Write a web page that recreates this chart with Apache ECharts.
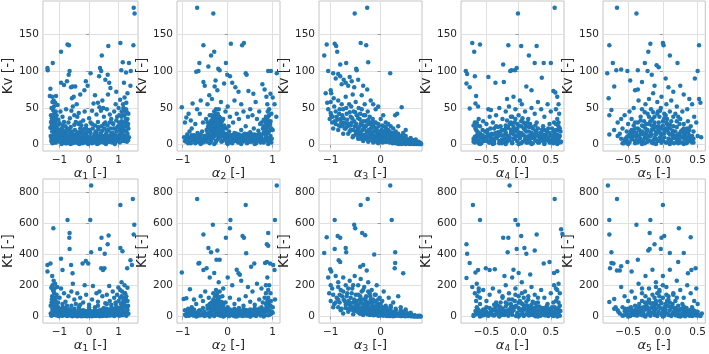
<!DOCTYPE html>
<html><head><meta charset="utf-8">
<script src="https://cdn.jsdelivr.net/npm/echarts@6/dist/echarts.min.js"></script>
<style>html,body{margin:0;padding:0;background:#fff}#c{width:709px;height:354px}</style>
</head><body><div id="c"></div>
<script>
// ---- tick labels / axis names ----
const xNames = ['1','2','3','4','5'];
const yNames = ['Kv [-]','Kt [-]'];
const xTicks = [[-1,0,1],[-1,0,1],[-1,0],[-0.5,0,0.5],[-0.5,0,0.5]];
const xDecimals = [0,0,0,1,1];
const xRanges = [[-1.5625,1.656],[-1.127,1.162],[-1.234,0.826],[-0.895,0.705],[-0.861,0.61]];
const kvTicks = [0,50,100,150];
const ktTicks = [0,200,400,600,800];
const kvRange = [-8.5,195];
const ktRange = [-42,882];

// ---- data: Kv vs alpha_i ----
const kvA1 = [[1.51,186],[1.54,178],[1.50,135],[1.06,138],[0.65,134],[-0.73,136],[-0.68,135],[-0.95,126],[-1.41,104],[-1.40,101],[-1.23,111],[-0.66,100],[-0.69,95],[0.05,97],[0.43,121],[0.37,104],[0.41,100],[0.34,93],[1.14,112],[1.09,101],[1.41,100],[1.35,111],[1.40,80],[0.63,95],[0.68,84],[-0.85,81],[-0.95,84],[-0.75,86],[-1.31,76],[-1.33,66],[-0.11,86],[-0.16,74],[-0.56,79],[-0.61,78],[-0.47,79],[0.55,88],[0.72,77],[1.25,98],[1.18,84],[-0.05,80],[0.2,67],[-0.3,68],[0.92,72],[1.3,70],
[-1.25,65],[-1.2,60],[-1.15,57],[-1.27,50],[-1.22,47],[-1.17,44],[-1.29,40],[-1.2,35],[-1.14,31],[-1.26,28],[-1.1,26],[-1.31,23],[-1.12,66],[-1.07,54],[-1.1,40],[-1.04,34],[-1.0,29],[-0.97,45],[-0.9,38],[-0.85,31],[-0.8,25],[-0.75,22],[-0.7,30],[-0.65,36],[-0.6,46],[-0.55,52],[-0.58,63],[-0.52,65],[-0.5,40],[-0.45,31],[-0.4,38],[-0.36,28],[-0.3,22],[-0.26,26],[-0.2,33],[-0.15,45],[-0.1,22],[0.0,36],[0.05,30],[0.1,46],[0.15,56],[0.2,26],[0.25,41],[0.3,31],[0.35,51],[0.4,46],[0.45,60],[0.5,38],[0.55,30],[0.6,48],[0.64,68],[0.7,41],[0.75,35],[0.8,29],[0.85,45],[0.9,55],[0.95,38],[1.0,50],[1.05,61],[1.1,45],[1.15,55],[1.2,40],[1.25,48],[1.3,35],[1.2,64],[1.26,57],[1.33,42],[1.16,30],[1.22,25],[1.08,28],[0.97,24],[-0.92,22],[-1.05,21],[-0.62,24],[-0.35,43],[0.3,57],[0.48,50],[-0.78,48],[-0.42,55],
[-1.3,12],[-1.28,5],[-1.25,18],[-1.22,8],[-1.2,14],[-1.18,3],[-1.15,20],[-1.12,10],[-1.1,16],[-1.08,6],[-1.05,13],[-1.02,9],[-1.0,4],[-0.97,17],[-0.95,11],[-0.92,6],[-0.9,14],[-0.87,3],[-0.85,9],[-0.82,15],[-0.8,5],[-0.77,11],[-0.75,2],[-0.72,8],[-0.7,13],[-0.67,4],[-0.65,10],[-0.62,16],[-0.6,6],[-0.57,2],[-0.55,11],[-0.52,7],[-0.5,14],[-0.47,3],[-0.45,9],[-0.42,5],[-0.4,12],[-0.37,2],[-0.35,8],[-0.32,15],[-0.3,4],[-0.27,10],[-0.25,6],[-0.22,2],[-0.2,12],[-0.17,7],[-0.15,3],[-0.12,9],[-0.1,14],[-0.07,5],[-0.05,2],[-0.02,8],[0.0,11],[0.03,4],[0.05,16],[0.08,7],[0.1,2],[0.13,10],[0.15,5],[0.18,13],[0.2,3],[0.23,8],[0.25,17],[0.28,5],[0.3,11],[0.33,2],[0.35,7],[0.38,14],[0.4,4],[0.43,9],[0.45,19],[0.48,6],[0.5,12],[0.53,3],[0.55,8],[0.58,15],[0.6,5],[0.63,10],[0.65,20],[0.68,4],[0.7,12],[0.73,7],[0.75,16],[0.78,3],[0.8,9],[0.83,22],[0.85,6],[0.88,13],[0.9,4],[0.93,18],[0.95,10],[0.98,25],[1.0,7],[1.03,14],[1.05,20],[1.08,9],[1.1,32],[1.12,17],[1.15,5],[1.17,24],[1.2,12],[1.22,19],[1.25,8],[1.27,30],[1.3,15],[1.33,22],[1.35,10],
[-1.27,25],[-1.24,32],[-1.19,27],[-1.16,38],[-1.13,22],[-0.98,10],[-0.88,19],[-0.78,18],[-0.68,21],[-0.58,18],[-0.48,20],[-0.38,17],[-0.28,18],[-0.18,21],[-0.08,17],[0.02,19],[0.12,22],[0.22,18],[0.32,21],[0.42,25],[0.52,22],[0.62,26],[0.72,22],[0.82,28],[0.92,33],[1.02,30],[1.13,40],[1.28,44],[-0.93,1],[-0.63,1],[-0.33,1],[-0.03,1],[0.27,1],[0.57,1],[0.87,1]];
const kvA1b = [[-1.28,9],[-1.2,6],[-1.12,3],[-1.04,7],[-0.96,4],[-0.88,8],[-0.8,2],[-0.72,5],[-0.64,7],[-0.56,4],[-0.48,8],[-0.4,6],[-0.32,3],[-0.24,7],[-0.16,5],[-0.08,9],[0.0,6],[0.08,3],[0.16,8],[0.24,5],[0.32,9],[0.4,7],[0.48,3],[0.56,6],[0.64,4],[0.72,9],[0.8,6],[0.88,8],[0.96,5],[1.04,3],[1.12,8],[1.2,5],[1.28,4],
[-1.24,2],[-1.16,9],[-1.08,12],[-1.0,14],[-0.92,10],[-0.84,12],[-0.76,7],[-0.68,10],[-0.6,11],[-0.52,3],[-0.44,11],[-0.36,12],[-0.28,9],[-0.2,4],[-0.12,11],[-0.04,4],[0.04,10],[0.12,6],[0.2,9],[0.28,12],[0.36,4],[0.44,12],[0.52,10],[0.6,12],[0.68,8],[0.76,11],[0.84,13],[0.92,10],[1.0,12],[1.08,15],[1.16,13],[1.24,10],[1.32,6],
[-1.23,40],[-1.19,52],[-1.26,36],[-1.21,22],[-1.17,30],[-1.13,45],[-1.24,58],[-1.29,31],[-1.16,15],[-1.05,27],[-1.11,35],[1.1,38],[1.18,46],[1.24,35],[1.29,25],[1.14,20],[1.21,30],[1.32,28],[1.06,24],[1.26,18],[1.02,40],[1.16,50],
[-0.9,26],[-0.7,19],[-0.5,27],[-0.3,30],[-0.1,26],[0.1,28],[0.3,24],[0.5,28],[0.7,30],[0.9,22],[-0.6,14],[-0.2,16],[0.2,15],[0.6,18],[-0.8,14],[0.8,16],[-0.4,16],[0.4,16],[0.0,20],[-1.0,19]];

const kvA2 = [[-0.68,186],[-0.32,178],[-0.54,135],[0.07,137],[0.36,138],[0.32,135],[-0.30,126],[-0.37,121],[-0.63,111],[-0.43,106],[-0.21,103],[-0.18,101],[-0.04,111],[-0.65,100],[-0.70,99],[-0.01,95],[0.05,93],[0.40,97],[0.42,95],[0.90,100],[0.96,100],[1.09,97],[-0.54,85],[-0.51,80],[-0.41,67],[-0.27,87],[-0.29,79],[-0.23,74],[-0.08,83],[0.10,84],[0.17,78],[0.24,72],[0.46,73],[0.57,69],[0.77,82],[0.82,75],[0.86,65],[1.0,64],[0.95,69],[-1.02,51],[-0.87,42],[-0.92,37],[-0.95,30],[-0.78,56],[-0.68,48],
[-0.6,60],[-0.45,55],[-0.35,62],[-0.15,58],[0.0,52],[0.15,60],[0.3,55],[0.5,48],[0.62,58],[0.7,45],[0.88,55],[0.92,48],[0.97,42],[0.85,38],[0.9,32],[0.94,28],[0.8,25],[0.75,30],[0.65,35],[0.55,40],[0.45,38],[0.35,45],[0.25,35],[0.2,42],[0.12,30],[0.05,38],[-0.05,45],[-0.1,35],[-0.2,48],[-0.25,42],[-0.3,38],[-0.28,30],[-0.22,33],[-0.35,28],[-0.4,40],[-0.48,35],[-0.55,30],[-0.62,42],[-0.72,28],[-0.8,22],[-0.85,18],[-0.9,14],[-0.82,33],[-0.97,10],[1.08,38],[1.04,55],[0.58,22],[0.4,25],[-0.15,27],[-0.32,24],[-0.26,22],[-0.18,20],[-0.38,19],[-0.12,23],
[-0.95,5],[-0.9,8],[-0.85,3],[-0.82,10],[-0.78,6],[-0.75,13],[-0.72,2],[-0.7,9],[-0.67,16],[-0.65,4],[-0.62,11],[-0.6,7],[-0.57,18],[-0.55,3],[-0.52,12],[-0.5,6],[-0.47,20],[-0.45,9],[-0.42,14],[-0.4,2],[-0.38,25],[-0.36,8],[-0.34,16],[-0.32,30],[-0.3,12],[-0.28,20],[-0.26,5],[-0.24,26],[-0.22,14],[-0.2,9],[-0.18,32],[-0.16,17],[-0.14,4],[-0.12,12],[-0.1,22],[-0.07,7],[-0.05,15],[-0.02,3],[0.0,10],[0.03,18],[0.05,6],[0.08,13],[0.1,2],[0.13,9],[0.15,16],[0.18,5],[0.2,11],[0.23,3],[0.25,14],[0.28,7],[0.3,20],[0.33,4],[0.35,10],[0.38,15],[0.4,6],[0.43,2],[0.45,12],[0.48,8],[0.5,17],[0.53,4],[0.55,11],[0.58,6],[0.6,14],[0.63,2],[0.65,9],[0.68,19],[0.7,5],[0.73,13],[0.75,8],[0.78,22],[0.8,3],[0.82,15],[0.85,10],[0.87,27],[0.9,6],[0.92,18],[0.95,12],[0.97,3],[1.0,20],[-0.88,2],[-0.6,1],[-0.3,1],[0.0,1],[0.3,1],[0.6,1],[0.9,1],[-0.44,24],[-0.34,35],[-0.28,40],[-0.2,28],[-0.24,36],[-0.3,45],[0.72,28],[0.86,35],[0.92,40]];
const kvA2b = [[-0.92,4],[-0.87,7],[-0.82,2],[-0.77,9],[-0.72,5],[-0.67,8],[-0.62,3],[-0.57,7],[-0.52,9],[-0.47,4],[-0.42,8],[-0.37,5],[-0.32,9],[-0.27,3],[-0.22,7],[-0.17,10],[-0.12,5],[-0.07,9],[-0.02,6],[0.03,3],[0.08,8],[0.13,5],[0.18,9],[0.23,7],[0.28,3],[0.33,8],[0.38,5],[0.43,9],[0.48,4],[0.53,7],[0.58,9],[0.63,5],[0.68,8],[0.73,3],[0.78,7],[0.83,5],[0.88,9],[0.93,6],[0.98,8],
[-0.9,11],[-0.8,13],[-0.7,12],[-0.6,14],[-0.5,11],[-0.45,16],[-0.4,12],[-0.35,13],[-0.3,16],[-0.25,13],[-0.2,18],[-0.15,12],[-0.1,15],[-0.05,11],[0.0,14],[0.05,12],[0.1,13],[0.15,11],[0.2,15],[0.25,10],[0.3,12],[0.35,14],[0.4,11],[0.45,15],[0.5,12],[0.55,14],[0.6,10],[0.65,13],[0.7,15],[0.75,12],[0.8,17],[0.85,14],[0.9,16],[0.95,20],
[-0.42,28],[-0.38,32],[-0.36,22],[-0.33,26],[-0.31,20],[-0.29,34],[-0.27,28],[-0.25,18],[-0.23,30],[-0.21,24],[-0.19,38],[-0.17,26],[-0.15,20],[-0.13,32],[-0.11,18],[-0.26,48],[-0.22,42],[-0.35,40],[-0.16,36],[-0.4,22],[-0.45,30],[-0.08,26],[-0.03,22],[0.02,25],
[0.82,22],[0.84,30],[0.88,24],[0.9,38],[0.93,26],[0.95,32],[0.97,22],[0.89,45],[0.8,34],[0.86,20]];

const kvA3 = [[-0.27,186],[-0.52,178],[-0.40,138],[-0.29,135],[-1.08,136],[-0.92,137],[-0.89,134],[-0.87,126],[-1.13,121],[-0.81,109],[-0.69,111],[-0.49,103],[-0.48,101],[-0.25,112],[-1.05,100],[-0.95,97],[-0.85,96],[-0.81,93],[0.19,97],[-0.74,88],[-0.70,84],[-0.65,80],[-0.58,86],[-0.53,78],[-1.0,74],[-0.99,70],[-0.94,63],[-0.27,75],[-0.38,67],[-1.0,58],[-1.07,57],[-1.0,43],[-0.99,40],[0.42,51],[0.29,40],[0.33,42],
[-0.9,90],[-0.78,82],[-0.62,92],[-0.45,88],[-0.35,80],[-0.2,60],[-0.15,55],[-0.1,48],[-0.05,52],[0.0,35],[0.05,40],[0.1,30],[0.15,28],[0.2,25],[0.25,22],[0.3,18],[0.35,15],[0.4,12],[0.45,10],[0.5,8],[0.55,7],[0.6,6],[0.65,5],[0.7,4],[0.75,3],[0.8,2],
[-1.1,70],[-1.05,48],[-1.02,35],[-0.97,30],[-0.93,52],[-0.9,45],[-0.88,38],[-0.85,60],[-0.83,42],[-0.8,35],[-0.78,55],[-0.75,48],[-0.73,30],[-0.7,65],[-0.68,42],[-0.66,25],[-0.63,55],[-0.6,38],[-0.58,30],[-0.56,68],[-0.54,45],[-0.52,25],[-0.5,58],[-0.48,40],[-0.46,22],[-0.44,50],[-0.42,35],[-0.4,28],[-0.38,48],[-0.36,20],[-0.34,40],[-0.32,55],[-0.3,32],[-0.28,18],[-0.26,45],[-0.24,28],[-0.22,38],[-0.2,22],[-0.18,15],[-0.16,35],[-0.14,25],[-0.12,12],[-0.1,30],[-0.08,20],[-0.06,10],[-0.04,25],[-0.02,15],[0.0,8],[0.02,20],[0.04,12],[0.06,5],[0.08,18],[0.1,10],[0.12,4],[0.14,15],[0.16,7],[0.18,3],[0.2,12],[0.22,6],[0.24,2],[0.26,10],[0.28,5],[0.3,2],[0.32,8],[0.34,4],[0.36,1],[0.38,7],[0.4,3],[0.42,1],[0.44,6],[0.46,2],[0.48,4],[0.5,1],[0.52,5],[0.54,2],[0.56,3],[0.58,1],[0.6,4],[0.62,2],[0.64,1],[0.66,3],[0.68,1],[0.7,2],[0.72,1],[0.74,2],[0.76,1],[0.78,1],[0.8,1],
[-0.65,15],[-0.6,20],[-0.55,12],[-0.5,18],[-0.45,8],[-0.42,14],[-0.38,10],[-0.35,5],[-0.32,12],[-0.28,8],[-0.25,4],[-0.22,10],[-0.18,6],[-0.15,3],[-0.12,7],[-0.08,4],[-0.05,2],[-0.2,30],[-0.3,25],[-0.4,18],[-0.7,22],[-0.8,25],[-0.85,20],[-0.95,22],[-0.75,15],[0.05,25],[0.1,18],[0.15,12],[0.2,8],[0.25,15],[0.3,10],[0.35,6],[0.4,5],[0.45,16],[0.5,12],[0.55,3],[0.6,9],[0.65,6],[0.7,7],[0.15,20],[0.35,25],[0.5,20]];
const kvA3b = [[-0.9,28],[-0.87,34],[-0.84,26],[-0.82,48],[-0.79,30],[-0.77,40],[-0.74,36],[-0.72,22],[-0.69,50],[-0.67,34],[-0.64,28],[-0.62,44],[-0.6,26],[-0.59,52],[-0.57,36],[-0.55,20],[-0.53,32],[-0.51,44],[-0.49,28],[-0.47,16],[-0.45,36],[-0.43,24],[-0.41,42],[-0.39,30],[-0.37,14],[-0.35,32],[-0.33,22],[-0.31,40],[-0.29,26],[-0.27,10],[-0.25,34],[-0.23,18],[-0.21,28],[-0.19,12],[-0.17,24],[-0.15,18],[-0.13,30],[-0.11,8],[-0.09,22],[-0.07,14],[-0.05,28],[-0.03,6],[-0.01,18],[0.01,12],[0.03,26],[0.05,8],[0.07,16],[0.09,4],[0.11,22],[0.13,9],[0.15,6],[0.17,14],[0.19,5],[0.21,9],[0.23,16],[0.25,6],[0.27,12],[0.29,3],[0.31,14],[0.33,6],[0.35,9],[0.37,3],[0.39,10],[0.41,5],[0.43,2],[0.45,7],[0.47,3],[0.49,5],[0.51,2],[0.53,6],[0.55,4],[0.57,2],[0.59,5],[0.61,3],[0.63,2],[0.65,4],[0.67,2],[0.69,3],[0.71,2],[0.73,3],[0.75,2],[0.77,3],[0.79,2],[0.81,1],
[-0.46,12],[-0.4,8],[-0.34,9],[-0.3,14],[-0.26,6],[-0.22,15],[-0.16,9],[-0.12,18],[-0.06,16],[-0.02,4],[0.04,3],[0.08,7],[0.12,14],[0.16,10],[0.2,4],[0.24,8],[0.28,9],[0.32,2],[0.36,5],[0.4,8],[0.44,4],[0.48,6],[0.52,3],[0.56,5],[0.6,2],[0.64,3],[0.68,4],[0.72,3],[0.76,4],[-0.56,10],[-0.5,14],[-0.44,18],[-0.36,26],[-0.24,20],[-0.18,28],[-0.1,20],[0.0,18],[0.06,14],[0.1,24],[0.18,18],[0.26,14],[0.34,10],[0.42,9],[0.5,7],[-0.62,18],[-0.68,28],[-0.76,26],[-0.92,32],[-0.96,38]];

const kvA4 = [[0.56,186],[-0.01,178],[-0.72,138],[-0.69,126],[-0.60,136],[-0.16,135],[0.04,134],[0.28,134],[0.16,121],[-0.24,109],[0.25,111],[0.39,111],[0.50,111],[-0.82,100],[-0.80,96],[-0.81,83],[-0.76,78],[-0.68,93],[-0.47,92],[-0.13,100],[-0.11,101],[-0.03,104],[-0.06,101],[0.36,91],[-0.23,85],[-0.36,84],[0.2,74],[0.12,79],[0.54,73],[0.57,71],[-0.66,66],[-0.67,56],[-0.63,52],[-0.76,49],[-0.47,48],[-0.43,47],
[0.6,65],[0.62,55],[0.58,48],[0.63,42],[0.6,35],[0.55,30],[0.62,25],[0.58,20],[0.5,45],[0.45,55],[0.4,38],[0.35,48],[0.3,58],[0.25,42],[0.2,50],[0.15,35],[0.1,45],[0.05,55],[0.0,40],[-0.05,48],[-0.1,38],[-0.15,52],[-0.2,45],[-0.25,35],[-0.3,50],[-0.35,40],[-0.4,30],[-0.45,38],[-0.5,28],[-0.55,32],[-0.6,25],[-0.65,30],[-0.67,22],[-0.64,18],[-0.7,26],[-0.62,35],[-0.08,65],[0.02,60],[-0.18,62],[0.08,30],[-0.02,28],[0.12,25],[-0.12,30],[0.18,28],[-0.28,25],[0.28,30],[0.38,25],[0.48,28],[-0.38,22],[-0.48,20],[0.52,22],[0.44,18],
[-0.7,8],[-0.68,3],[-0.65,12],[-0.62,5],[-0.6,15],[-0.58,2],[-0.55,9],[-0.52,18],[-0.5,5],[-0.48,12],[-0.45,3],[-0.42,15],[-0.4,8],[-0.38,2],[-0.35,11],[-0.32,17],[-0.3,5],[-0.28,13],[-0.26,2],[-0.24,20],[-0.22,8],[-0.2,14],[-0.18,4],[-0.16,23],[-0.14,10],[-0.12,16],[-0.1,2],[-0.08,8],[-0.06,21],[-0.04,12],[-0.02,5],[0.0,17],[0.02,9],[0.04,2],[0.06,14],[0.08,22],[0.1,6],[0.12,11],[0.14,3],[0.16,18],[0.18,8],[0.2,13],[0.22,2],[0.24,10],[0.26,19],[0.28,5],[0.3,12],[0.32,3],[0.34,16],[0.36,7],[0.38,11],[0.4,2],[0.42,14],[0.44,6],[0.46,9],[0.48,3],[0.5,13],[0.52,7],[0.54,2],[0.56,10],[0.58,5],[0.6,14],[0.62,8],[0.64,3],[0.65,18],[-0.6,1],[-0.4,1],[-0.2,1],[0.0,1],[0.2,1],[0.4,1],[0.6,1],[-0.1,28],[0.04,32],[-0.2,26],[-0.05,35],[0.1,20]];
const kvA4b = [[-0.7,4],[-0.66,7],[-0.62,2],[-0.58,8],[-0.54,5],[-0.5,9],[-0.46,3],[-0.42,7],[-0.38,5],[-0.34,9],[-0.3,2],[-0.26,7],[-0.22,4],[-0.18,9],[-0.14,6],[-0.1,3],[-0.06,8],[-0.02,5],[0.02,10],[0.06,4],[0.1,8],[0.14,6],[0.18,3],[0.22,9],[0.26,6],[0.3,3],[0.34,8],[0.38,5],[0.42,9],[0.46,6],[0.5,3],[0.54,8],[0.58,5],[0.62,9],[0.66,4],
[-0.68,11],[-0.64,14],[-0.6,10],[-0.56,13],[-0.52,11],[-0.48,15],[-0.44,12],[-0.4,14],[-0.36,16],[-0.32,12],[-0.28,18],[-0.24,13],[-0.2,17],[-0.16,12],[-0.12,20],[-0.08,14],[-0.04,18],[0.0,12],[0.04,16],[0.08,13],[0.12,18],[0.16,12],[0.2,16],[0.24,14],[0.28,17],[0.32,11],[0.36,15],[0.4,13],[0.44,11],[0.48,16],[0.52,12],[0.56,15],[0.6,11],[0.64,12],
[-0.2,22],[-0.14,28],[-0.08,24],[-0.02,22],[0.04,25],[0.1,28],[0.16,24],[0.22,22],[-0.26,20],[0.3,22],[-0.66,20],[-0.64,26],[-0.68,30],[0.6,20],[0.62,30],[0.58,28],[-0.35,25],[0.4,20],[0.0,26],[-0.1,18],
[-0.56,20],[-0.5,18],[-0.44,22],[-0.32,24],[-0.18,33],[-0.12,38],[-0.06,30],[0.06,36],[0.14,30],[0.2,24],[0.26,26],[0.36,20],[0.46,22],[0.54,18],[-0.62,16],[0.64,22],[-0.44,7],[-0.24,6],[0.12,3],[0.32,6],[0.52,5]];

const kvA5 = [[-0.66,186],[-0.38,178],[-0.77,135],[-0.18,137],[-0.21,126],[0.0,138],[0.01,135],[0.52,135],[0.10,121],[-0.72,111],[-0.26,111],[0.21,111],[-0.09,108],[-0.80,97],[-0.67,101],[-0.60,102],[-0.51,100],[-0.36,101],[-0.22,100],[-0.16,95],[-0.06,105],[0.04,90],[0.50,100],[0.46,90],[-0.70,79],[-0.78,63],[-0.74,47],[-0.77,40],[-0.47,87],[-0.40,74],[-0.36,75],[0.52,62],[0.54,57],[-0.77,14],
[-0.3,85],[-0.12,80],[0.08,78],[0.15,72],[0.25,80],[0.3,68],[0.38,62],[0.42,55],[0.35,48],[0.28,45],[0.2,52],[0.12,60],[0.05,55],[-0.02,65],[-0.08,58],[-0.14,70],[-0.2,62],[-0.25,55],[-0.3,48],[-0.35,60],[-0.42,50],[-0.48,45],[-0.55,40],[-0.6,35],[-0.65,30],[-0.7,20],[-0.62,15],[-0.58,22],[-0.5,28],[-0.45,35],[-0.4,30],[-0.32,38],[-0.27,32],[-0.22,42],[-0.17,48],[-0.12,38],[-0.07,45],[-0.03,50],[0.02,42],[0.06,35],[0.1,45],[0.15,38],[0.2,32],[0.25,35],[0.3,28],[0.36,32],[0.4,25],[0.45,38],[0.48,30],[0.44,18],[0.5,12],[0.55,10],
[-0.55,5],[-0.52,10],[-0.5,3],[-0.48,14],[-0.45,7],[-0.42,18],[-0.4,2],[-0.38,11],[-0.36,22],[-0.34,6],[-0.32,15],[-0.3,3],[-0.28,25],[-0.26,9],[-0.24,17],[-0.22,4],[-0.2,28],[-0.18,12],[-0.16,20],[-0.14,2],[-0.12,30],[-0.1,8],[-0.08,18],[-0.06,25],[-0.04,5],[-0.02,14],[0.0,32],[0.02,10],[0.04,22],[0.06,3],[0.08,16],[0.1,27],[0.12,7],[0.14,19],[0.16,2],[0.18,12],[0.2,24],[0.22,6],[0.24,15],[0.26,3],[0.28,20],[0.3,9],[0.32,13],[0.34,2],[0.36,17],[0.38,7],[0.4,11],[0.42,3],[0.44,8],[-0.6,8],[-0.58,2],[-0.65,12],[-0.5,1],[-0.3,1],[-0.1,1],[0.1,1],[0.3,1],[-0.15,35],[-0.05,38],[0.05,30],[-0.25,22],[0.15,25],[-0.45,20],[0.35,22]];
const kvA5b = [[-0.56,2],[-0.52,6],[-0.48,3],[-0.44,9],[-0.4,5],[-0.36,3],[-0.32,8],[-0.28,5],[-0.24,9],[-0.2,6],[-0.16,3],[-0.12,9],[-0.08,5],[-0.04,10],[0.0,6],[0.04,3],[0.08,8],[0.12,4],[0.16,9],[0.2,5],[0.24,8],[0.28,3],[0.32,7],[0.36,4],[0.4,6],[0.44,3],
[-0.5,12],[-0.46,10],[-0.42,12],[-0.38,16],[-0.34,12],[-0.3,18],[-0.26,14],[-0.22,20],[-0.18,16],[-0.14,22],[-0.1,14],[-0.06,20],[-0.02,22],[0.02,16],[0.06,20],[0.1,14],[0.14,12],[0.18,18],[0.22,14],[0.26,11],[0.3,15],[0.34,10],[0.38,13],[0.42,9],[-0.54,8],
[-0.24,28],[-0.18,32],[-0.12,26],[-0.06,30],[0.0,26],[0.06,28],[-0.3,26],[0.12,32],[-0.08,42],[0.02,36],[-0.2,38],[0.1,22],[0.24,28],[-0.36,30],[-0.42,26],[0.3,22],[-0.1,24],[-0.16,26],
[-0.46,18],[-0.4,22],[-0.34,20],[-0.28,14],[-0.22,12],[-0.16,14],[-0.1,18],[-0.04,16],[0.02,20],[0.08,24],[0.14,16],[0.2,10],[0.26,18],[0.32,18],[0.38,20],[-0.44,14],[-0.14,44],[-0.04,46],[0.04,40],[-0.26,44],[0.18,42],[-0.32,33],[0.22,38],[-0.52,18],[-0.38,6],[-0.26,2],[-0.14,6],[-0.02,3],[0.1,5],[0.22,2],[0.34,5],[0.42,12]];

// ---- data: Kt vs alpha_i ----
const ktA1 = [[0.07,841],[1.48,753],[1.06,716],[1.53,588],[1.51,526],[-0.73,619],[0.04,619],[-1.21,567],[-0.66,536],[-0.67,505],[0.42,505],[0.66,520],[0.63,464],[1.06,439],[1.13,419],[0.37,433],[0.53,402],[0.07,412],[-0.66,433],[-0.95,371],[-1.31,340],[-1.41,330],[-1.41,289],[1.40,361],[1.45,330],[1.29,309],[-0.11,357],[-0.22,340],[-0.03,340],[-0.61,330],[-0.56,278],[-0.90,299],[0.41,309],[0.52,309],[0.47,299],[0.13,196],[0.68,196],[0.99,186],
[-1.25,260],[-1.2,230],[-1.15,210],[-1.28,185],[-1.22,170],[-1.18,150],[-1.25,130],[-1.2,115],[-1.14,100],[-1.27,90],[-1.1,80],[-1.3,70],[-1.05,60],[-1.15,55],[-1.0,120],[-0.95,180],[-0.85,150],[-0.8,95],[-0.75,70],[-0.7,130],[-0.6,160],[-0.55,210],[-0.5,110],[-0.45,80],[-0.4,150],[-0.35,60],[-0.3,120],[-0.2,90],[-0.1,140],[0.0,75],[0.1,110],[0.2,60],[0.3,95],[0.35,160],[0.45,130],[0.55,85],[0.6,140],[0.7,100],[0.75,75],[0.8,160],[0.85,120],[0.9,80],[0.95,140],[1.0,100],[1.05,170],[1.1,130],[1.15,90],[1.2,150],[1.25,110],[1.3,185],[1.22,70],[1.28,60],[1.1,220],[-1.1,140],[-1.08,190],[-0.9,60],[-0.65,45],[0.25,150],[-0.15,200],
[-1.3,20],[-1.27,5],[-1.24,35],[-1.21,12],[-1.18,45],[-1.15,25],[-1.12,8],[-1.1,40],[-1.07,18],[-1.04,3],[-1.0,30],[-0.97,10],[-0.94,22],[-0.9,5],[-0.87,15],[-0.84,35],[-0.8,8],[-0.77,20],[-0.74,3],[-0.7,12],[-0.67,28],[-0.64,6],[-0.6,16],[-0.57,2],[-0.54,10],[-0.5,24],[-0.47,5],[-0.44,14],[-0.4,2],[-0.37,9],[-0.34,20],[-0.3,4],[-0.27,12],[-0.24,2],[-0.2,8],[-0.17,18],[-0.14,3],[-0.1,10],[-0.07,2],[-0.04,7],[0.0,15],[0.03,3],[0.06,9],[0.1,2],[0.13,12],[0.16,5],[0.2,20],[0.23,3],[0.26,10],[0.3,6],[0.33,16],[0.36,2],[0.4,11],[0.43,25],[0.46,4],[0.5,14],[0.53,7],[0.56,30],[0.6,3],[0.63,12],[0.66,22],[0.7,6],[0.73,15],[0.76,40],[0.8,9],[0.83,25],[0.86,4],[0.9,18],[0.93,45],[0.96,10],[1.0,30],[1.03,5],[1.06,55],[1.1,20],[1.13,8],[1.16,38],[1.2,15],[1.23,28],[1.26,5],[1.3,42],[1.33,18],[-1.2,60],[-1.25,75],[-0.5,50],[0.0,45],[0.5,55],[1.2,90],[1.15,65],[-0.3,40],[0.3,35],[0.8,50],[-0.8,55]];
const ktA1b = [[-1.28,8],[-1.2,25],[-1.12,15],[-1.04,32],[-0.96,6],[-0.88,18],[-0.8,30],[-0.72,8],[-0.64,20],[-0.56,12],[-0.48,30],[-0.4,8],[-0.32,18],[-0.24,10],[-0.16,26],[-0.08,6],[0.0,22],[0.08,12],[0.16,28],[0.24,8],[0.32,24],[0.4,5],[0.48,30],[0.56,12],[0.64,35],[0.72,8],[0.8,28],[0.88,12],[0.96,32],[1.04,18],[1.12,40],[1.2,28],[1.28,20],
[-1.24,50],[-1.16,62],[-1.08,40],[-1.0,48],[-0.92,40],[-0.84,18],[-0.76,42],[-0.68,45],[-0.6,35],[-0.52,42],[-0.44,32],[-0.36,38],[-0.28,30],[-0.2,40],[-0.12,35],[-0.04,30],[0.04,36],[0.12,32],[0.2,42],[0.28,35],[0.36,40],[0.44,45],[0.52,38],[0.6,50],[0.68,44],[0.76,58],[0.84,46],[0.92,62],[1.0,55],[1.08,80],[1.16,100],[1.24,60],[1.32,70],
[-1.22,100],[-1.18,120],[-1.26,110],[-1.14,80],[-1.2,160],[-1.24,200],[-1.17,180],[-1.12,120],[1.18,120],[1.22,150],[1.26,130],[1.12,160],[1.2,200],[1.3,100],[-0.9,80],[-0.6,70],[-0.3,75],[0.0,60],[0.3,70],[0.6,80],[0.9,90],[-1.05,90],[1.05,120]];

const ktA2 = [[1.09,841],[-0.68,753],[0.40,716],[1.05,619],[0.06,619],[0.05,567],[-0.33,588],[-0.54,526],[0.90,536],[0.33,516],[0.36,505],[-0.04,505],[0.87,464],[0.90,454],[-0.43,439],[-0.37,412],[-0.23,423],[0.41,406],[0.83,344],[0.87,350],[0.94,340],[1.01,330],[1.04,299],[-1.02,282],[-0.65,340],[-0.63,344],[-0.54,299],[-0.47,309],[-0.25,365],[-0.18,365],[0.24,278],[0.27,268],[0.52,320],[0.59,340],[-0.98,113],[-0.84,175],[-0.92,118],
[-0.4,250],[-0.3,280],[-0.2,220],[-0.1,180],[0.0,250],[0.1,200],[0.2,300],[0.3,230],[0.45,190],[0.55,160],[0.65,210],[0.75,180],[0.85,200],[0.9,170],[0.95,150],[0.82,120],[0.88,100],[0.92,80],[0.78,90],[0.7,110],[0.6,75],[0.5,95],[0.4,130],[0.35,70],[0.25,110],[0.15,80],[0.05,120],[-0.05,90],[-0.12,130],[-0.18,160],[-0.22,120],[-0.27,100],[-0.32,150],[-0.36,90],[-0.42,120],[-0.5,160],[-0.55,100],[-0.6,130],[-0.7,80],[-0.75,110],[-0.8,60],[-0.88,50],[-0.95,40],[1.0,60],[1.05,110],[-0.15,95],[-0.25,75],[-0.2,60],[-0.3,55],[-0.1,70],
[-0.95,12],[-0.9,25],[-0.86,5],[-0.82,18],[-0.78,35],[-0.75,8],[-0.72,22],[-0.68,3],[-0.65,15],[-0.62,40],[-0.58,10],[-0.55,25],[-0.52,4],[-0.48,18],[-0.45,50],[-0.42,8],[-0.38,30],[-0.35,14],[-0.32,70],[-0.3,3],[-0.28,45],[-0.26,22],[-0.24,85],[-0.22,10],[-0.2,35],[-0.18,55],[-0.16,5],[-0.14,28],[-0.12,15],[-0.1,42],[-0.08,4],[-0.05,20],[-0.02,10],[0.0,30],[0.03,3],[0.06,16],[0.1,8],[0.13,25],[0.16,2],[0.2,12],[0.23,35],[0.26,6],[0.3,18],[0.33,3],[0.36,10],[0.4,28],[0.43,5],[0.46,14],[0.5,2],[0.53,20],[0.56,8],[0.6,35],[0.63,4],[0.66,15],[0.7,25],[0.73,6],[0.76,45],[0.8,12],[0.83,30],[0.86,60],[0.9,8],[0.93,40],[0.96,18],[1.0,25],[-0.7,1],[-0.4,1],[-0.1,1],[0.2,1],[0.5,1],[0.8,1],[-0.34,40],[-0.2,100],[-0.15,45],[-0.38,60]];
const ktA2b = [[-0.92,4],[-0.87,15],[-0.82,28],[-0.77,6],[-0.72,12],[-0.67,25],[-0.62,6],[-0.57,18],[-0.52,30],[-0.47,8],[-0.42,22],[-0.37,45],[-0.32,12],[-0.27,30],[-0.22,55],[-0.17,20],[-0.12,38],[-0.07,10],[-0.02,25],[0.03,8],[0.08,20],[0.13,6],[0.18,15],[0.23,25],[0.28,10],[0.33,22],[0.38,6],[0.43,18],[0.48,30],[0.53,10],[0.58,20],[0.63,8],[0.68,28],[0.73,14],[0.78,24],[0.83,8],[0.88,35],[0.93,12],[0.98,30],
[-0.85,40],[-0.75,45],[-0.65,35],[-0.55,55],[-0.45,70],[-0.4,80],[-0.35,55],[-0.3,90],[-0.25,60],[-0.22,110],[-0.2,75],[-0.15,70],[-0.12,90],[-0.1,55],[-0.05,48],[0.0,60],[0.05,45],[0.1,38],[0.15,50],[0.2,40],[0.25,55],[0.3,35],[0.35,48],[0.4,42],[0.45,38],[0.5,45],[0.55,40],[0.6,55],[0.65,42],[0.7,50],[0.75,60],[0.8,45],[0.85,80],[0.9,55],[0.95,70],
[-0.28,130],[-0.24,145],[-0.18,125],[-0.32,110],[-0.26,170],[0.85,150],[0.9,120],[0.92,200],[0.88,250],[0.96,100]];

const ktA3 = [[0.19,841],[-0.26,753],[-0.40,716],[0.22,619],[-0.92,619],[-0.53,588],[-0.51,567],[-1.08,509],[-0.86,516],[-0.81,505],[-0.37,536],[-0.31,522],[-1.13,408],[-0.92,433],[-0.70,439],[-0.69,412],[-0.13,398],[0.29,412],[0.29,344],[0.28,309],[0.45,278],[-1.01,303],[-0.99,289],[-0.84,361],[-0.81,350],[-0.41,320],[-0.35,330],[-0.28,295],
[-1.05,250],[-1.0,200],[-0.97,180],[-0.95,140],[-0.9,260],[-0.88,120],[-0.85,220],[-0.82,90],[-0.8,170],[-0.77,130],[-0.75,250],[-0.72,100],[-0.7,200],[-0.67,150],[-0.65,80],[-0.62,230],[-0.6,120],[-0.57,180],[-0.55,90],[-0.52,260],[-0.5,140],[-0.47,70],[-0.45,200],[-0.42,110],[-0.4,240],[-0.38,160],[-0.35,80],[-0.33,190],[-0.3,120],[-0.28,60],[-0.25,220],[-0.22,150],[-0.2,90],[-0.18,170],[-0.15,110],[-0.12,60],[-0.1,140],[-0.08,200],[-0.05,80],[-0.02,120],[0.0,50],[0.03,100],[0.06,160],[0.1,70],[0.13,40],[0.16,120],[0.2,60],[0.25,90],[0.3,40],[0.35,130],[0.4,60],[0.45,30],[0.5,45],[0.55,20],[0.6,15],[-1.0,100],[-0.93,80],[-0.85,60],[-1.03,150],
[-0.8,40],[-0.75,20],[-0.7,55],[-0.65,30],[-0.6,45],[-0.55,15],[-0.5,35],[-0.45,50],[-0.42,20],[-0.38,40],[-0.35,10],[-0.32,30],[-0.3,55],[-0.27,15],[-0.24,35],[-0.2,20],[-0.18,45],[-0.15,8],[-0.12,30],[-0.1,15],[-0.08,50],[-0.05,5],[-0.03,25],[0.0,12],[0.02,35],[0.05,5],[0.08,20],[0.1,10],[0.13,25],[0.16,4],[0.19,15],[0.22,8],[0.25,20],[0.28,3],[0.31,12],[0.34,6],[0.37,15],[0.4,3],[0.43,10],[0.46,5],[0.49,2],[0.52,8],[0.55,3],[0.58,6],[0.61,2],[0.64,4],[0.67,1],[0.7,3],[0.73,1],[0.76,2],[0.8,1],[0.78,5],[0.68,8],[0.6,25],[0.5,30],[0.4,40],[0.3,50],[0.2,70],[0.1,45],[0.0,80],[-0.1,95],[-0.2,110],[-0.3,100],[-0.4,90],[-0.5,80],[-0.6,65],[-0.7,75],[-0.16,65],[-0.06,40],[0.04,60],[0.14,30],[-0.26,75],[-0.36,60]];
const ktA3b = [[-0.95,60],[-0.9,90],[-0.85,110],[-0.82,140],[-0.78,50],[-0.74,110],[-0.7,90],[-0.68,130],[-0.64,100],[-0.6,85],[-0.58,150],[-0.56,60],[-0.53,110],[-0.5,60],[-0.48,100],[-0.44,75],[-0.41,130],[-0.39,55],[-0.36,110],[-0.34,40],[-0.31,75],[-0.29,130],[-0.27,45],[-0.25,90],[-0.23,60],[-0.21,130],[-0.19,30],[-0.17,80],[-0.15,45],[-0.13,100],[-0.11,25],[-0.09,70],[-0.07,35],[-0.04,60],[-0.02,20],[0.01,50],[0.03,18],[0.06,40],[0.08,12],[0.11,30],[0.14,8],[0.17,22],[0.2,40],[0.23,12],[0.26,28],[0.29,6],[0.33,20],[0.36,8],[0.39,24],[0.42,4],[0.45,12],[0.48,6],[0.51,14],[0.54,4],[0.57,8],[0.6,3],[0.63,6],[0.66,2],[0.69,4],[0.72,2],[0.75,3],[0.79,2],
[-0.65,50],[-0.55,40],[-0.45,28],[-0.4,18],[-0.35,25],[-0.28,28],[-0.22,10],[-0.16,22],[-0.12,10],[-0.06,18],[-0.01,6],[0.04,14],[0.07,28],[0.12,4],[0.15,18],[0.18,3],[0.21,10],[0.27,12],[0.32,8],[0.38,5],[0.44,6],[0.5,4],[0.56,5],[0.62,4],[0.68,5],[0.74,3],[0.78,3],[0.24,2],[0.12,55],[-0.05,110],[-0.12,140],[-0.25,160],[-0.35,170],[-0.45,140],[-0.55,200],[-0.65,180],[-0.75,160],[-0.85,190]];

const ktA4 = [[-0.14,841],[-0.71,716],[-0.60,619],[0.56,753],[-0.05,619],[-0.01,588],[0.66,560],[0.68,530],[-0.24,505],[-0.16,505],[0.04,516],[0.28,526],[-0.81,464],[-0.80,402],[-0.76,344],[-0.17,412],[-0.03,433],[0.09,439],[0.25,423],[0.12,402],[0.39,340],[0.48,350],[-0.37,303],[-0.45,299],[-0.51,309],[-0.63,299],[-0.67,282],[-0.81,247],
[-0.72,190],[-0.65,210],[-0.62,180],[-0.68,150],[-0.6,120],[-0.55,170],[-0.5,100],[-0.45,140],[-0.4,180],[-0.35,90],[-0.3,160],[-0.25,120],[-0.2,200],[-0.15,150],[-0.1,250],[-0.05,180],[0.0,130],[0.05,220],[0.1,160],[0.15,110],[0.2,190],[0.25,140],[0.3,90],[0.35,170],[0.4,120],[0.45,80],[0.5,150],[0.55,200],[0.58,180],[0.6,120],[0.62,90],[0.64,150],[0.6,290],[0.55,280],[-0.08,300],[0.0,280],[-0.22,260],[0.18,270],
[-0.7,10],[-0.67,35],[-0.65,60],[-0.63,20],[-0.6,80],[-0.58,5],[-0.55,45],[-0.52,15],[-0.5,30],[-0.47,5],[-0.45,55],[-0.42,20],[-0.4,8],[-0.37,40],[-0.35,15],[-0.32,70],[-0.3,3],[-0.27,25],[-0.25,50],[-0.22,10],[-0.2,35],[-0.18,80],[-0.16,5],[-0.14,20],[-0.12,60],[-0.1,12],[-0.08,40],[-0.06,100],[-0.04,4],[-0.02,25],[0.0,55],[0.02,10],[0.04,85],[0.06,30],[0.08,3],[0.1,45],[0.12,15],[0.14,70],[0.16,6],[0.18,30],[0.2,50],[0.22,10],[0.24,25],[0.26,2],[0.28,40],[0.3,15],[0.32,65],[0.34,5],[0.36,20],[0.38,35],[0.4,8],[0.42,50],[0.44,18],[0.46,3],[0.48,30],[0.5,12],[0.52,60],[0.54,4],[0.56,25],[0.58,45],[0.6,10],[0.62,30],[0.64,5],[-0.6,1],[-0.3,1],[0.0,1],[0.3,1],[0.6,1],[-0.1,110],[0.08,120],[-0.28,90],[0.22,95]];
const ktA4b = [[-0.7,4],[-0.66,15],[-0.62,40],[-0.58,18],[-0.54,8],[-0.5,20],[-0.46,12],[-0.42,35],[-0.38,6],[-0.34,22],[-0.3,45],[-0.26,10],[-0.22,28],[-0.18,18],[-0.14,45],[-0.1,30],[-0.06,60],[-0.02,12],[0.02,40],[0.06,20],[0.1,70],[0.14,35],[0.18,12],[0.22,45],[0.26,20],[0.3,35],[0.34,10],[0.38,25],[0.42,8],[0.46,30],[0.5,20],[0.54,10],[0.58,25],[0.62,15],[0.65,35],
[-0.64,50],[-0.6,30],[-0.56,25],[-0.52,40],[-0.48,10],[-0.44,28],[-0.4,45],[-0.36,55],[-0.32,30],[-0.28,60],[-0.24,35],[-0.2,65],[-0.16,40],[-0.12,80],[-0.08,55],[-0.04,70],[0.0,90],[0.04,45],[0.08,60],[0.12,95],[0.16,50],[0.2,75],[0.24,55],[0.28,65],[0.32,40],[0.36,55],[0.4,25],[0.44,40],[0.48,50],[0.52,35],[0.56,60],[0.6,45],[0.64,70],
[-0.66,100],[-0.64,130],[-0.62,160],[0.6,170],[0.62,210],[0.58,100],[-0.05,140],[0.05,150],[0.15,130],[-0.15,110],[-0.25,130],[0.3,120],[0.02,100],
[-0.5,60],[-0.38,75],[-0.2,90],[0.06,80],[0.26,85],[0.44,70],[0.54,90],[-0.1,65],[0.18,60],[-0.3,30],[0.4,55],[0.62,55]];

const ktA5 = [[-0.79,841],[-0.66,753],[0.0,716],[-0.77,619],[-0.18,619],[-0.38,588],[-0.77,526],[-0.19,536],[0.23,567],[0.40,509],[-0.02,505],[0.02,516],[-0.12,464],[-0.19,433],[-0.21,423],[-0.03,433],[0.10,408],[0.30,408],[-0.74,412],[-0.74,344],[-0.71,340],[-0.76,309],[-0.66,295],[-0.62,295],[-0.60,323],[-0.51,350],[-0.45,289],[-0.36,365],[0.22,350],[0.36,278],[0.41,299],[0.47,309],[-0.77,93],[-0.70,113],
[-0.6,190],[-0.55,130],[-0.5,100],[-0.45,160],[-0.4,120],[-0.35,210],[-0.3,150],[-0.25,260],[-0.2,180],[-0.15,300],[-0.1,220],[-0.05,170],[0.0,260],[0.05,190],[0.1,300],[0.15,140],[0.2,230],[0.25,170],[0.3,120],[0.35,200],[0.4,150],[0.45,100],[0.48,180],[0.5,80],[0.42,60],[-0.3,100],[-0.12,120],[0.08,130],[-0.22,90],[0.18,100],[-0.08,150],[0.28,80],[-0.4,70],[-0.58,60],[-0.65,40],
[-0.62,20],[-0.58,5],[-0.55,35],[-0.52,12],[-0.5,50],[-0.47,3],[-0.45,25],[-0.42,10],[-0.4,40],[-0.38,6],[-0.35,20],[-0.32,55],[-0.3,8],[-0.28,30],[-0.26,3],[-0.24,70],[-0.22,15],[-0.2,40],[-0.18,5],[-0.16,25],[-0.14,85],[-0.12,10],[-0.1,50],[-0.08,3],[-0.06,30],[-0.04,100],[-0.02,15],[0.0,45],[0.02,5],[0.04,25],[0.06,70],[0.08,10],[0.1,40],[0.12,3],[0.14,20],[0.16,55],[0.18,8],[0.2,30],[0.22,4],[0.24,15],[0.26,45],[0.28,6],[0.3,25],[0.32,2],[0.34,12],[0.36,35],[0.38,5],[0.4,18],[0.42,3],[0.44,10],[0.46,25],[0.48,6],[0.5,12],[0.54,4],[0.56,20],[-0.5,1],[-0.25,1],[0.0,1],[0.25,1],[-0.1,80],[0.1,90],[-0.2,110],[0.0,120],[-0.35,60],[0.3,65]];
const ktA5b = [[-0.56,8],[-0.52,25],[-0.48,12],[-0.44,40],[-0.4,20],[-0.36,8],[-0.32,30],[-0.28,15],[-0.24,45],[-0.2,20],[-0.16,60],[-0.12,30],[-0.08,15],[-0.04,55],[0.0,25],[0.04,45],[0.08,20],[0.12,60],[0.16,30],[0.2,15],[0.24,40],[0.28,18],[0.32,30],[0.36,12],[0.4,28],[0.44,8],[0.48,18],[0.52,6],
[-0.54,50],[-0.46,60],[-0.42,30],[-0.38,45],[-0.34,80],[-0.3,55],[-0.26,90],[-0.22,60],[-0.18,85],[-0.14,50],[-0.1,100],[-0.06,70],[-0.02,85],[0.02,60],[0.06,100],[0.1,65],[0.14,80],[0.18,55],[0.22,70],[0.26,50],[0.3,45],[0.34,55],[0.38,40],[0.42,45],[0.46,35],[0.5,30],
[-0.15,140],[-0.05,160],[0.05,140],[-0.25,130],[0.15,150],[-0.1,190],[0.0,200],[0.2,120],[-0.3,180],[-0.7,50],[-0.64,30],[-0.68,60],
[-0.48,40],[-0.36,30],[-0.28,60],[-0.12,70],[0.04,80],[0.2,45],[0.32,48],[0.44,40],[-0.2,100],[0.08,110],[-0.05,130]];

const kvData = [kvA1.concat(kvA1b), kvA2.concat(kvA2b), kvA3.concat(kvA3b), kvA4.concat(kvA4b), kvA5.concat(kvA5b)];
const ktData = [ktA1.concat(ktA1b), ktA2.concat(ktA2b), ktA3.concat(ktA3b), ktA4.concat(ktA4b), ktA5.concat(ktA5b)];

// ---- layout ----
const lefts = [35,177,319,461,603];
const tops = [1,179];
const W = 103, H = 150;
const FONT = 'DejaVu Sans';
const TXT = '#262626';
const minus = s => String(s).replace('-', '\u2212');

const grids=[], xAxes=[], yAxes=[], series=[];
for (let r=0;r<2;r++){
  for (let c=0;c<5;c++){
    const i = r*5+c;
    grids.push({left:lefts[c], top:tops[r], width:W, height:H, show:true, borderColor:'#c4c4c4', borderWidth:1, containLabel:false});
    xAxes.push({type:'value', gridIndex:i, min:xRanges[c][0], max:xRanges[c][1],
      name:'{a|\u03b1}{s|'+xNames[c]+'}{n| [-]}', nameLocation:'middle', nameGap:12,
      nameTextStyle:{fontFamily:FONT, color:TXT, rich:{
        a:{fontFamily:FONT, fontStyle:'italic', fontSize:13, color:TXT, lineHeight:15},
        s:{fontFamily:FONT, fontSize:9, color:TXT, verticalAlign:'bottom', lineHeight:10, padding:[5,0,0,0]},
        n:{fontFamily:FONT, fontSize:13, color:TXT, lineHeight:15}}},
      axisLine:{show:false},
      axisTick:{show:true, length:3, lineStyle:{color:'#999'}, customValues:xTicks[c]},
      axisLabel:{customValues:xTicks[c], fontFamily:FONT, fontSize:10.5, color:TXT, margin:4,
        formatter:v=>minus(Number(v).toFixed(xDecimals[c]))},
      splitLine:{show:true, lineStyle:{color:'#e0e0e0', width:1}}});
    const yt = r===0?kvTicks:ktTicks, yr = r===0?kvRange:ktRange;
    yAxes.push({type:'value', gridIndex:i, min:yr[0], max:yr[1],
      name:yNames[r], nameLocation:'middle', nameGap:25, nameRotate:90,
      nameTextStyle:{fontFamily:FONT, fontSize:13.5, color:TXT},
      axisLine:{show:false},
      axisTick:{show:true, length:3, lineStyle:{color:'#999'}, customValues:yt},
      axisLabel:{customValues:yt, fontFamily:FONT, fontSize:10.5, color:TXT, margin:4},
      splitLine:{show:true, lineStyle:{color:'#e0e0e0', width:1}}});
    series.push({type:'scatter', xAxisIndex:i, yAxisIndex:i, symbol:'circle', symbolSize:4.5,
      itemStyle:{color:'#1f77b4', opacity:1}, data:(r===0?kvData:ktData)[c], silent:true, large:false});
  }
}
const chart = echarts.init(document.getElementById('c'), null, {renderer:'canvas'});
chart.setOption({animation:false, backgroundColor:'#fff', grid:grids, xAxis:xAxes, yAxis:yAxes, series:series});
</script></body></html>
